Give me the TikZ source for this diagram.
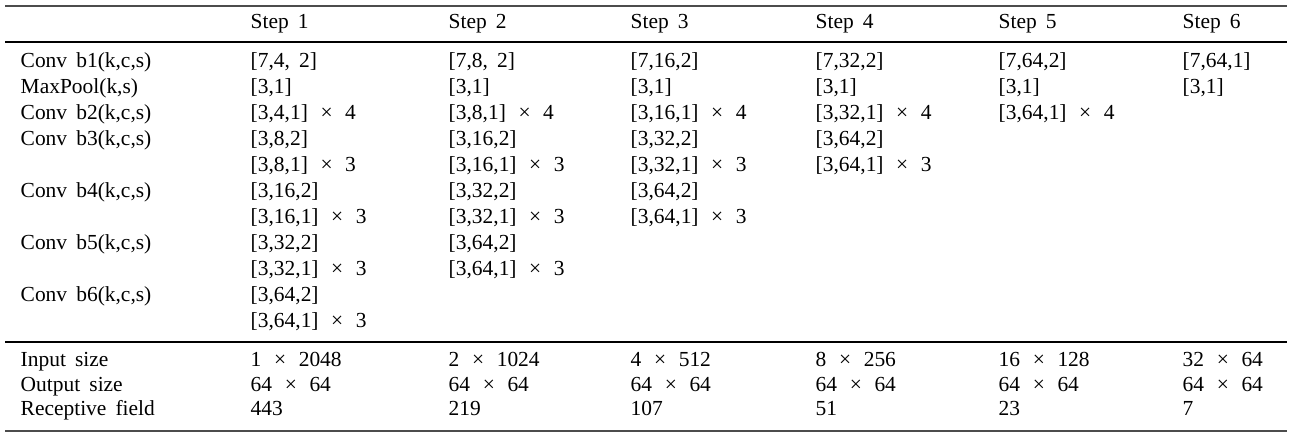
\documentclass[tikz,border=0pt]{standalone}
\usepackage{fontspec}
\setmainfont{Liberation Serif}[WordSpace=1.7]
\newcommand\tms{\hspace{1pt} × \hspace{1pt}}
\begin{document}
\begin{tikzpicture}[x=0.01cm,y=-0.01cm,
  cell/.style={anchor=west,inner sep=0pt,text height=4.3pt,text depth=1.2pt,text=black,font=\fontsize{6.1}{7}\selectfont},
  heavyrule/.style={line width=0.6pt,draw=black!70},
  lightrule/.style={line width=0.35pt,draw=black}]
\useasboundingbox (0,0) rectangle (1300,439);
% rules
\coordinate (tl) at (5,6);    \coordinate (tr) at (1287,6);
\coordinate (hl) at (5,42);   \coordinate (hr) at (1287,42);
\coordinate (ml) at (5,342);  \coordinate (mr) at (1287,342);
\coordinate (bl) at (5,431);  \coordinate (br) at (1287,431);
\draw[heavyrule] (tl) -- (tr);
\draw[lightrule] (hl) -- (hr);
\draw[lightrule] (ml) -- (mr);
\draw[heavyrule] (bl) -- (br);
% header
\node[cell] (h1) at (250,23) {Step 1};
\node[cell] (h2) at (448,23) {Step 2};
\node[cell] (h3) at (630,23) {Step 3};
\node[cell] (h4) at (815,23) {Step 4};
\node[cell] (h5) at (998,23) {Step 5};
\node[cell] (h6) at (1182,23) {Step 6};
% labels
\node[cell] (l0) at (20,62) {Conv b1(k,c,s)};
\node[cell] (l1) at (20,88) {MaxPool(k,s)};
\node[cell] (l2) at (20,114) {Conv b2(k,c,s)};
\node[cell] (l3) at (20,140) {Conv b3(k,c,s)};
\node[cell] (l5) at (20,192) {Conv b4(k,c,s)};
\node[cell] (l7) at (20,244) {Conv b5(k,c,s)};
\node[cell] (l9) at (20,296) {Conv b6(k,c,s)};
% Step 1
\node[cell] (a0) at (250,62) {[7,4, 2]};
\node[cell] (a1) at (250,88) {[3,1]};
\node[cell] (a2) at (250,114) {[3,4,1]\tms 4};
\node[cell] (a3) at (250,140) {[3,8,2]};
\node[cell] (a4) at (250,166) {[3,8,1]\tms 3};
\node[cell] (a5) at (250,192) {[3,16,2]};
\node[cell] (a6) at (250,218) {[3,16,1]\tms 3};
\node[cell] (a7) at (250,244) {[3,32,2]};
\node[cell] (a8) at (250,270) {[3,32,1]\tms 3};
\node[cell] (a9) at (250,296) {[3,64,2]};
\node[cell] (a10) at (250,322) {[3,64,1]\tms 3};
% Step 2
\node[cell] (b0) at (448,62) {[7,8, 2]};
\node[cell] (b1) at (448,88) {[3,1]};
\node[cell] (b2) at (448,114) {[3,8,1]\tms 4};
\node[cell] (b3) at (448,140) {[3,16,2]};
\node[cell] (b4) at (448,166) {[3,16,1]\tms 3};
\node[cell] (b5) at (448,192) {[3,32,2]};
\node[cell] (b6) at (448,218) {[3,32,1]\tms 3};
\node[cell] (b7) at (448,244) {[3,64,2]};
\node[cell] (b8) at (448,270) {[3,64,1]\tms 3};
% Step 3
\node[cell] (c0) at (630,62) {[7,16,2]};
\node[cell] (c1) at (630,88) {[3,1]};
\node[cell] (c2) at (630,114) {[3,16,1]\tms 4};
\node[cell] (c3) at (630,140) {[3,32,2]};
\node[cell] (c4) at (630,166) {[3,32,1]\tms 3};
\node[cell] (c5) at (630,192) {[3,64,2]};
\node[cell] (c6) at (630,218) {[3,64,1]\tms 3};
% Step 4
\node[cell] (d0) at (815,62) {[7,32,2]};
\node[cell] (d1) at (815,88) {[3,1]};
\node[cell] (d2) at (815,114) {[3,32,1]\tms 4};
\node[cell] (d3) at (815,140) {[3,64,2]};
\node[cell] (d4) at (815,166) {[3,64,1]\tms 3};
% Step 5
\node[cell] (e0) at (998,62) {[7,64,2]};
\node[cell] (e1) at (998,88) {[3,1]};
\node[cell] (e2) at (998,114) {[3,64,1]\tms 4};
% Step 6
\node[cell] (f0) at (1182,62) {[7,64,1]};
\node[cell] (f1) at (1182,88) {[3,1]};
% bottom block
\node[cell] (in) at (20,361) {Input size};
\node[cell] (out) at (20,386) {Output size};
\node[cell] (rf) at (20,410) {Receptive field};
\node[cell] (in1) at (250,361) {1\tms 2048};
\node[cell] (in2) at (448,361) {2\tms 1024};
\node[cell] (in3) at (630,361) {4\tms 512};
\node[cell] (in4) at (815,361) {8\tms 256};
\node[cell] (in5) at (998,361) {16\tms 128};
\node[cell] (in6) at (1182,361) {32\tms 64};
\node[cell] (o1) at (250,386) {64\tms 64};
\node[cell] (o2) at (448,386) {64\tms 64};
\node[cell] (o3) at (630,386) {64\tms 64};
\node[cell] (o4) at (815,386) {64\tms 64};
\node[cell] (o5) at (998,386) {64\tms 64};
\node[cell] (o6) at (1182,386) {64\tms 64};
\node[cell] (r1) at (250,410) {443};
\node[cell] (r2) at (448,410) {219};
\node[cell] (r3) at (630,410) {107};
\node[cell] (r4) at (815,410) {51};
\node[cell] (r5) at (998,410) {23};
\node[cell] (r6) at (1182,410) {7};
\end{tikzpicture}
\end{document}
